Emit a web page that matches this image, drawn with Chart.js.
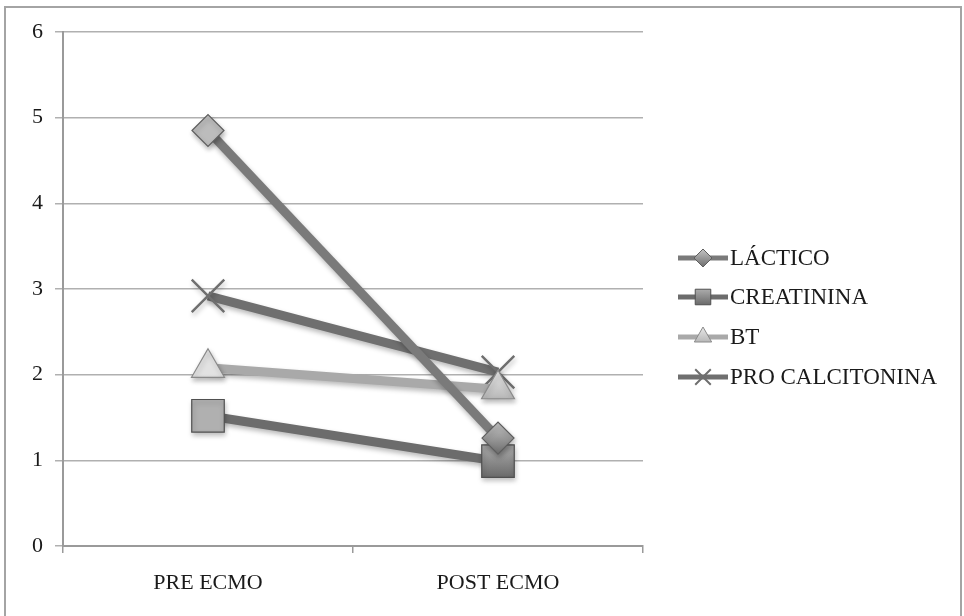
<!DOCTYPE html>
<html>
<head>
<meta charset="utf-8">
<script src="https://cdn.jsdelivr.net/npm/chart.js@4.4.1/dist/chart.umd.min.js"></script>
<style>
  html, body { margin: 0; padding: 0; background: #fff; }
  #wrap { position: relative; width: 964px; height: 616px; overflow: hidden; }
  #frame { position: absolute; left: 4px; top: 6px; width: 958px; height: 640px; border: 2px solid #a4a4a4; box-sizing: border-box; }
  canvas { position: absolute; left: 0; top: 0; }
</style>
</head>
<body>
<div id="wrap">
  <div id="frame"></div>
  <canvas id="c" width="964" height="616"></canvas>
</div>
<script>
// Categories and series
const categories = ['PRE ECMO', 'POST ECMO'];
const seriesNames = ['LÁCTICO', 'CREATININA', 'BT', 'PRO CALCITONINA'];
const lactico = [4.85, 1.26];
const creatinina = [1.52, 0.99];
const bt = [2.08, 1.83];
const procalcitonina = [2.92, 2.03];
const yTicks = [0, 1, 2, 3, 4, 5, 6];

const FONT = '"Liberation Serif", "Times New Roman", serif';
const FONT_SIZE = 22;
const LEGEND_FONT_SIZE = 23;

const styles = [
  { line: '#7a7a7a', top: '#bcbcbc', bottom: '#767676', edge: '#5e5e5e', point: 'rectRot', r: 16, lr: 9 },
  { line: '#6c6c6c', top: '#b0b0b0', bottom: '#666666', edge: '#505050', point: 'rect', r: 23, lr: 11 },
  { line: '#a9a9a9', top: '#e2e2e2', bottom: '#aeaeae', edge: '#8a8a8a', point: 'triangle', r: 19, lr: 10 },
  { line: '#6f6f6f', top: '#6f6f6f', bottom: '#6f6f6f', edge: '#6f6f6f', point: 'crossRot', r: 23, lr: 11 }
];
const values = [lactico, creatinina, bt, procalcitonina];

// Vertical shading for a marker centred at height y
function shade(ctx2d, s, y, r) {
  if (!isFinite(y)) return s.bottom;
  const g = ctx2d.createLinearGradient(0, y - r, 0, y + r);
  g.addColorStop(0, s.top);
  g.addColorStop(1, s.bottom);
  return g;
}

const datasets = seriesNames.map((name, i) => ({
  label: name,
  data: values[i],
  borderColor: styles[i].line,
  borderWidth: 9,
  pointStyle: styles[i].point,
  pointRadius: styles[i].r,
  pointHoverRadius: styles[i].r,
  pointBackgroundColor: styles[i].bottom,
  pointBorderColor: styles[i].point === 'crossRot' ? styles[i].line : styles[i].edge,
  pointBorderWidth: styles[i].point === 'crossRot' ? 2.5 : 1.2,
  tension: 0,
  fill: false
}));

// Gradient fills for the markers, applied once the scales are laid out
const markerShade = {
  id: 'markerShade',
  beforeDatasetsDraw(chart) {
    chart.data.datasets.forEach((ds, i) => {
      const s = styles[i];
      chart.getDatasetMeta(i).data.forEach(pt => {
        if (pt.options) pt.options.backgroundColor = shade(chart.ctx, s, pt.y, s.r * 0.8);
      });
    });
  }
};

// Soft drop shadow under the series
const shadowPlugin = {
  id: 'shadow',
  beforeDatasetDraw(chart) {
    const ctx = chart.ctx;
    ctx.save();
    ctx.shadowColor = 'rgba(0,0,0,0.28)';
    ctx.shadowBlur = 5;
    ctx.shadowOffsetX = 1;
    ctx.shadowOffsetY = 3;
  },
  afterDatasetDraw(chart) {
    chart.ctx.restore();
  }
};

// Legend on the right: short line with the marker over it, then the name
const sideLegend = {
  id: 'sideLegend',
  afterDraw(chart) {
    const ctx = chart.ctx;
    const x0 = 678, x1 = 728, rows = [258, 297, 337, 377];
    chart.data.datasets.forEach((ds, i) => {
      const y = rows[i];
      const s = styles[i];
      ctx.save();
      ctx.strokeStyle = s.line;
      ctx.lineWidth = 5;
      ctx.beginPath();
      ctx.moveTo(x0, y);
      ctx.lineTo(x1, y);
      ctx.stroke();
      ctx.fillStyle = shade(ctx, s, y, s.lr * 0.8);
      ctx.strokeStyle = s.point === 'crossRot' ? s.line : s.edge;
      ctx.lineWidth = s.point === 'crossRot' ? 2 : 1;
      Chart.helpers.drawPoint(ctx, { pointStyle: s.point, radius: s.lr, rotation: 0, borderWidth: ctx.lineWidth }, (x0 + x1) / 2, y);
      ctx.fillStyle = '#1a1a1a';
      ctx.font = LEGEND_FONT_SIZE + 'px ' + FONT;
      ctx.textBaseline = 'middle';
      ctx.textAlign = 'left';
      ctx.fillText(ds.label, 730, y + 1);
      ctx.restore();
    });
  }
};

new Chart(document.getElementById('c'), {
  type: 'line',
  data: { labels: categories, datasets },
  options: {
    responsive: false,
    animation: false,
    devicePixelRatio: 1,
    layout: { padding: { top: 32, right: 321, bottom: 0, left: 0 } },
    plugins: { legend: { display: false }, tooltip: { enabled: false } },
    scales: {
      x: {
        offset: true,
        grid: { offset: true, drawOnChartArea: false, drawTicks: true, tickLength: 7, color: '#9a9a9a', lineWidth: 1.5 },
        border: { display: true, color: '#9a9a9a', width: 2 },
        ticks: { color: '#1a1a1a', font: { family: FONT, size: FONT_SIZE }, padding: 17 },
        afterFit(scale) { scale.height = 70; }
      },
      y: {
        min: 0, max: 6,
        afterBuildTicks(scale) { scale.ticks = yTicks.map(v => ({ value: v })); },
        grid: { color: '#b0b0b0', lineWidth: 1.5, tickLength: 8, drawTicks: true },
        border: { display: true, color: '#9a9a9a', width: 2 },
        ticks: { color: '#1a1a1a', font: { family: FONT, size: FONT_SIZE }, padding: 12 },
        afterFit(scale) { scale.width = 63; }
      }
    }
  },
  plugins: [markerShade, shadowPlugin, sideLegend]
});
</script>
</body>
</html>
